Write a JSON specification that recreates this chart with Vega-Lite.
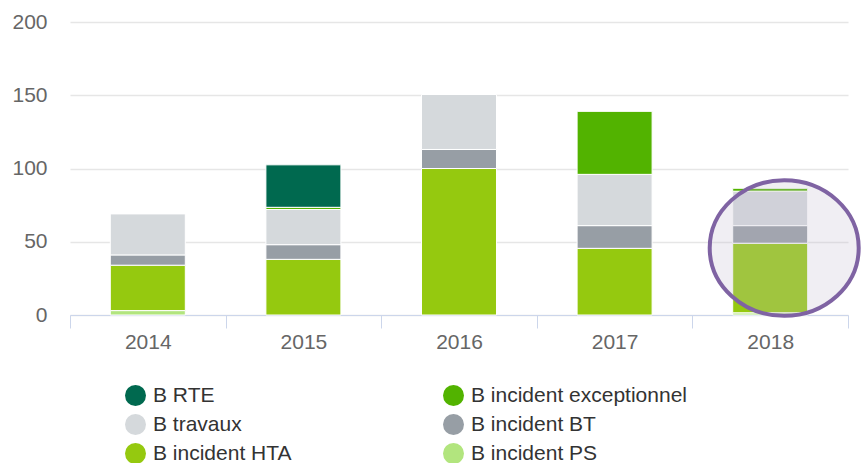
{
  "$schema": "https://vega.github.io/schema/vega-lite/v6.json",
  "width": 778,
  "height": 293,
  "autosize": {"type": "none"},
  "padding": {"left": 70, "top": 22, "right": 14, "bottom": 148},
  "background": "#ffffff",
  "config": {
    "view": {"stroke": null},
    "font": "Liberation Sans",
    "axis": {"labelFont": "Liberation Sans", "labelFontSize": 21, "labelColor": "#666666"},
    "legend": {"labelFont": "Liberation Sans"}
  },
  "datasets": {
    "bars": [
      {"year": "2014", "series": "B incident PS", "value": 3},
      {"year": "2014", "series": "B incident HTA", "value": 31},
      {"year": "2014", "series": "B incident BT", "value": 7},
      {"year": "2014", "series": "B travaux", "value": 28},
      {"year": "2015", "series": "B incident HTA", "value": 38},
      {"year": "2015", "series": "B incident BT", "value": 10},
      {"year": "2015", "series": "B travaux", "value": 24},
      {"year": "2015", "series": "B incident exceptionnel", "value": 1.5},
      {"year": "2015", "series": "B RTE", "value": 29},
      {"year": "2016", "series": "B incident HTA", "value": 100},
      {"year": "2016", "series": "B incident BT", "value": 13},
      {"year": "2016", "series": "B travaux", "value": 37.5},
      {"year": "2017", "series": "B incident HTA", "value": 45.5},
      {"year": "2017", "series": "B incident BT", "value": 15.5},
      {"year": "2017", "series": "B travaux", "value": 35},
      {"year": "2017", "series": "B incident exceptionnel", "value": 43},
      {"year": "2018", "series": "B incident PS", "value": 1.5},
      {"year": "2018", "series": "B incident HTA", "value": 47.5},
      {"year": "2018", "series": "B incident BT", "value": 12},
      {"year": "2018", "series": "B travaux", "value": 23.5},
      {"year": "2018", "series": "B incident exceptionnel", "value": 2}
    ],
    "highlight": [
      {"year": "2018", "value": 45.7}
    ]
  },
  "layer": [
    {
      "data": {"name": "bars"},
      "transform": [
        {"calculate": "indexof(['B incident PS', 'B incident HTA', 'B incident BT', 'B travaux', 'B incident exceptionnel', 'B RTE'], datum.series)", "as": "stackRank"}
      ],
      "mark": {"type": "bar", "width": {"band": 0.482}, "stroke": "#ffffff", "strokeWidth": 1},
      "encoding": {
        "x": {
          "field": "year", "type": "nominal",
          "scale": {"paddingInner": 0, "paddingOuter": 0},
          "axis": {
            "title": null, "labelAngle": 0,
            "domainColor": "#ccd6eb", "domainWidth": 1,
            "tickColor": "#ccd6eb", "tickSize": 13, "tickBand": "extent",
            "labelPadding": 3, "grid": false
          }
        },
        "y": {
          "field": "value", "type": "quantitative",
          "stack": "zero",
          "scale": {"domain": [0, 200], "nice": false},
          "axis": {
            "title": null, "values": [0, 50, 100, 150, 200],
            "domain": false, "ticks": false, "tickSize": 0, "labelPadding": 23,
            "gridColor": "#e6e6e6", "gridWidth": 1.5
          }
        },
        "order": {"field": "stackRank", "type": "quantitative", "sort": "ascending"},
        "color": {
          "field": "series", "type": "nominal",
          "scale": {
            "domain": ["B RTE", "B travaux", "B incident HTA", "B incident exceptionnel", "B incident BT", "B incident PS"],
            "range": ["#00694F", "#D5D9DC", "#95C90F", "#52B300", "#979EA5", "#B2E57E"]
          },
          "legend": {
            "title": null, "orient": "none", "legendX": 55, "legendY": 363,
            "columns": 2, "columnPadding": 151, "rowPadding": 7,
            "symbolType": "circle", "symbolSize": 441, "symbolStrokeWidth": 0,
            "labelFontSize": 21, "labelColor": "#333333", "labelOffset": 7,
            "padding": 0, "labelLimit": 400
          }
        }
      }
    },
    {
      "data": {"name": "highlight"},
      "mark": {
        "type": "point",
        "shape": "M -1 0 A 1 0.91 0 1 1 1 0 A 1 0.91 0 1 1 -1 0 Z",
        "size": 22200,
        "xOffset": 14,
        "filled": false,
        "fill": "#C4BCD1",
        "fillOpacity": 0.25,
        "stroke": "#7F63A3",
        "strokeWidth": 4,
        "opacity": 1
      },
      "encoding": {
        "x": {"field": "year", "type": "nominal"},
        "y": {"field": "value", "type": "quantitative"}
      }
    }
  ]
}
